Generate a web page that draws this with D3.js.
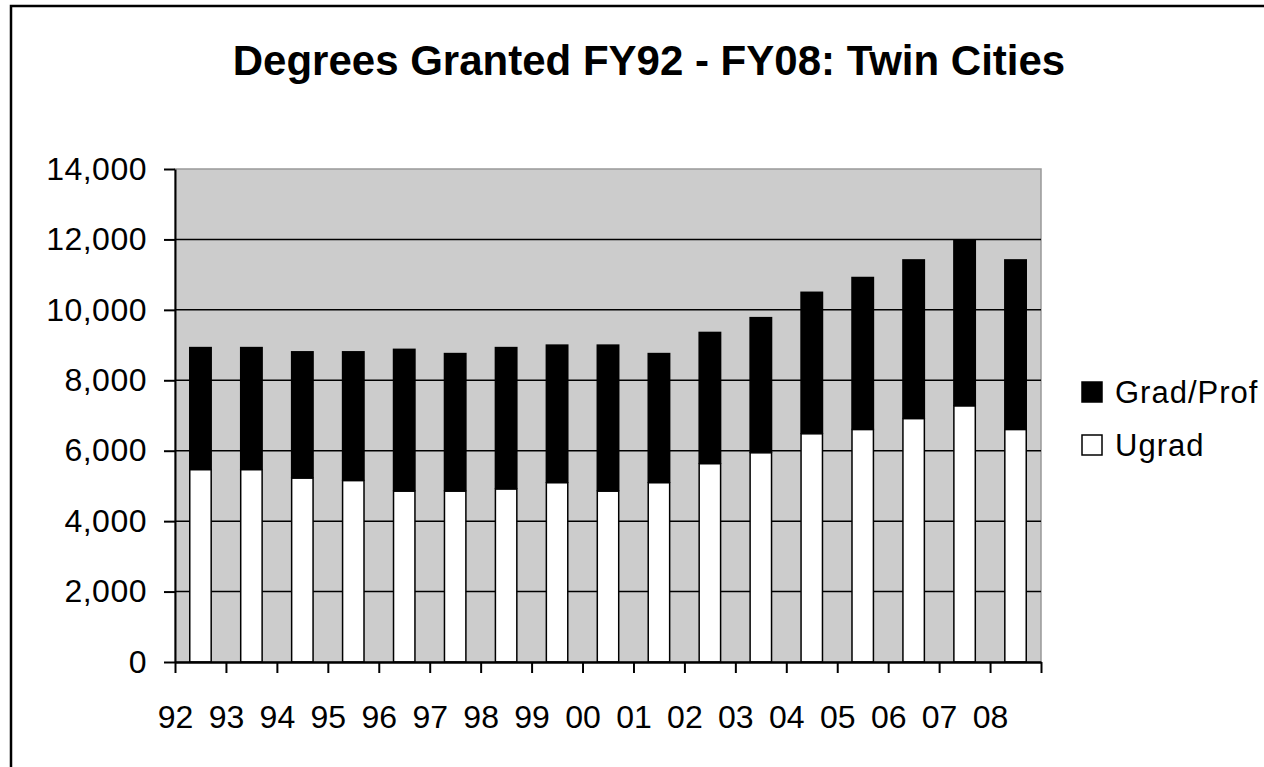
<!DOCTYPE html>
<html>
<head>
<meta charset="utf-8">
<script src="https://cdn.jsdelivr.net/npm/d3@7"></script>
<style>
  body { margin: 0; background: #fff; }
  text { font-family: "Liberation Sans", Arial, sans-serif; }
</style>
</head>
<body>
<div id="chart"></div>
<script>
var years = ["92", "93", "94", "95", "96", "97", "98", "99", "00", "01", "02", "03", "04", "05", "06", "07", "08"];
var ugrad = [5460, 5460, 5220, 5150, 4850, 4850, 4910, 5090, 4850, 5090, 5630, 5940, 6480, 6600, 6910, 7270, 6600];
var gradProf = [3490, 3490, 3610, 3680, 4050, 3930, 4040, 3930, 4170, 3690, 3750, 3860, 4040, 4340, 4530, 4740, 4840];
var yTicks = [0, 2000, 4000, 6000, 8000, 10000, 12000, 14000];
var seriesNames = ["Grad/Prof", "Ugrad"];

var width = 1264,
  height = 767,
  plotLeft = 175, plotRight = 1041, plotTop = 169, plotBottom = 662;

var svg = d3.select('#chart')
  .append('svg')
  .attr('width', width)
  .attr('height', height);

// outer chart frame (right and bottom edges fall outside the picture)
svg.append('rect')
  .attr('x', 11).attr('y', 6)
  .attr('width', width + 20).attr('height', height + 20)
  .attr('fill', '#fff')
  .attr('stroke', '#000')
  .attr('stroke-width', 2.5);

var x = d3.scaleBand()
  .domain(years)
  .range([plotLeft, plotRight])
  .paddingInner(0.55)
  .paddingOuter(0.275);

var xEdge = d3.scaleLinear()
  .domain([0, years.length])
  .range([plotLeft, plotRight]);

var y = d3.scaleLinear()
  .domain([0, 14000])
  .range([plotBottom, plotTop]);

// plot background
svg.append('rect')
  .attr('x', plotLeft).attr('y', plotTop)
  .attr('width', plotRight - plotLeft).attr('height', plotBottom - plotTop)
  .attr('fill', '#cccccc')
  .attr('stroke', '#999')
  .attr('stroke-width', 1.5);

// gridlines
svg.append('g')
  .selectAll('line')
  .data(yTicks.filter(function(d) { return d > 0 && d < 14000; }))
  .enter()
  .append('line')
  .attr('x1', plotLeft).attr('x2', plotRight)
  .attr('y1', function(d) { return y(d); })
  .attr('y2', function(d) { return y(d); })
  .attr('stroke', '#000')
  .attr('stroke-width', 1.5);

// stacked bars
var rows = years.map(function(yr, i) {
  return { year: yr, ugrad: ugrad[i], grad: gradProf[i] };
});
var stack = d3.stack().keys(['ugrad', 'grad'])(rows);

svg.append('g')
  .selectAll('rect')
  .data(stack[1])
  .enter()
  .append('rect')
  .attr('x', function(d) { return x(d.data.year); })
  .attr('y', function(d) { return y(d[1]); })
  .attr('width', x.bandwidth())
  .attr('height', function(d) { return y(d[0]) - y(d[1]); })
  .attr('fill', '#000');

svg.append('g')
  .selectAll('rect')
  .data(stack[0])
  .enter()
  .append('rect')
  .attr('x', function(d) { return x(d.data.year) + 0.75; })
  .attr('y', function(d) { return y(d[1]); })
  .attr('width', x.bandwidth() - 1.5)
  .attr('height', function(d) { return y(d[0]) - y(d[1]); })
  .attr('fill', '#fff')
  .attr('stroke', '#000')
  .attr('stroke-width', 1.5);

// y axis
var yAxis = svg.append('g')
  .attr('transform', 'translate(' + plotLeft + ',0)')
  .call(d3.axisLeft(y)
    .tickValues(yTicks)
    .tickSize(11)
    .tickSizeOuter(0)
    .tickPadding(17)
    .tickFormat(d3.format(',')));

yAxis.selectAll('line').attr('stroke', '#000').attr('stroke-width', 2);
yAxis.select('.domain').attr('stroke', '#000').attr('stroke-width', 2);
yAxis.selectAll('text')
  .style('font-size', '32px')
  .style('letter-spacing', '0.5px')
  .attr('fill', '#000');

// x axis: ticks and labels sit on the band edges
var xAxis = svg.append('g')
  .attr('transform', 'translate(0,' + plotBottom + ')')
  .call(d3.axisBottom(xEdge)
    .tickValues(d3.range(0, years.length + 1))
    .tickSize(11)
    .tickSizeOuter(0)
    .tickPadding(32)
    .tickFormat(function(i) { return i < years.length ? years[i] : ''; }));

xAxis.selectAll('line').attr('stroke', '#000').attr('stroke-width', 2);
xAxis.select('.domain').attr('stroke', '#000').attr('stroke-width', 2.5);
xAxis.selectAll('text')
  .style('font-size', '32px')
  .attr('fill', '#000');

// title
svg.append('text')
  .attr('x', 649)
  .attr('y', 75)
  .attr('text-anchor', 'middle')
  .style('font-size', '42px')
  .style('font-weight', 'bold')
  .text('Degrees Granted FY92 - FY08: Twin Cities');

// legend
var legend = svg.append('g')
  .selectAll('g')
  .data(seriesNames)
  .enter()
  .append('g')
  .attr('transform', function(d, i) { return 'translate(1082,' + (382 + i * 53) + ')'; });

legend.append('rect')
  .attr('width', 20).attr('height', 20)
  .attr('fill', function(d, i) { return i == 0 ? '#000' : '#fff'; })
  .attr('stroke', '#000')
  .attr('stroke-width', 1.5);

legend.append('text')
  .attr('x', 33)
  .attr('y', 21)
  .style('font-size', '31px')
  .style('letter-spacing', '1px')
  .text(function(d) { return d; });
</script>
</body>
</html>
